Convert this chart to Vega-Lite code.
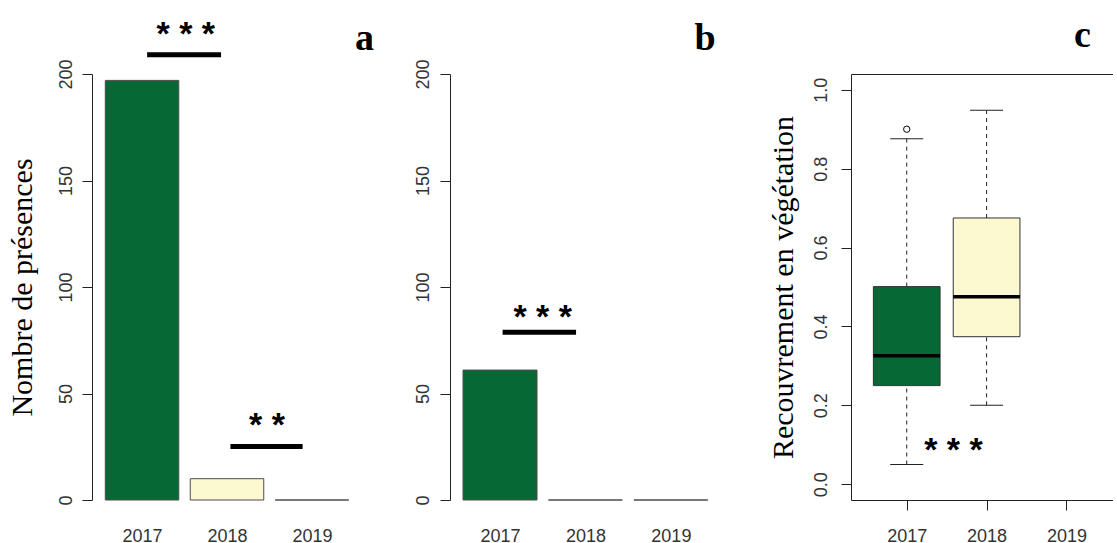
{
  "$schema": "https://vega.github.io/schema/vega-lite/v6.json",
  "padding": {"left": 7, "top": 17, "right": 0, "bottom": 0},
  "bounds": "flush",
  "spacing": 88,
  "config": {
    "view": {"stroke": null},
    "mark": {"opacity": 1},
    "axis": {
      "grid": false,
      "labelFont": "Liberation Sans",
      "labelFontSize": 18,
      "labelColor": "#333333",
      "labelFlush": false,
      "labelOverlap": false,
      "domainColor": "#222222",
      "tickColor": "#222222",
      "titleFont": "Liberation Serif",
      "titleFontSize": 30,
      "titleFontWeight": "normal",
      "titleColor": "#000000"
    },
    "axisY": {"labelAngle": -90, "labelAlign": "center", "labelBaseline": "bottom", "tickSize": 10, "labelPadding": 7}
  },
  "datasets": {
    "presence": [
      {"panel": "a", "year": 2017, "n": 197},
      {"panel": "a", "year": 2018, "n": 10},
      {"panel": "a", "year": 2019, "n": 0},
      {"panel": "b", "year": 2017, "n": 61},
      {"panel": "b", "year": 2018, "n": 0},
      {"panel": "b", "year": 2019, "n": 0}
    ],
    "boxstats": [
      {"year": 2017, "lower": 0.05, "q1": 0.25, "median": 0.326, "q3": 0.501, "upper": 0.876},
      {"year": 2018, "lower": 0.2, "q1": 0.374, "median": 0.475, "q3": 0.675, "upper": 0.948}
    ],
    "outliers": [{"year": 2017, "value": 0.9}],
    "signif": [
      {"panel": "a", "x1": 2017.06, "x2": 2017.93, "y": 209.0},
      {"panel": "a", "x1": 2018.04, "x2": 2018.89, "y": 25.1},
      {"panel": "b", "x1": 2017.03, "x2": 2017.89, "y": 78.7}
    ],
    "stars": [
      {"panel": "a", "x": 2017.515, "y": 213.8, "label": "* * *"},
      {"panel": "a", "x": 2018.47, "y": 30.2, "label": "* *"},
      {"panel": "b", "x": 2017.5, "y": 80.6, "label": "* * *"},
      {"panel": "c", "x": 2017.585, "y": 0.058, "label": "* * *"}
    ],
    "letters": [
      {"panel": "a", "x": 2019.618, "y": 211.5, "label": "a"},
      {"panel": "b", "x": 2019.4, "y": 211.5, "label": "b"},
      {"panel": "c", "x": 2019.2, "y": 1.108, "label": "c"}
    ]
  },
  "hconcat": [
    {
      "width": 270,
      "height": 426,
      "layer": [
        {
          "data": {"name": "presence"},
          "transform": [{"filter": "datum.panel === 'a'"}],
          "mark": {"type": "bar", "width": 73.5, "stroke": "#4d4d4d", "strokeWidth": 1},
          "encoding": {
            "x": {"field": "year", "type": "quantitative", "scale": {"domain": [2016.47, 2019.53], "nice": false, "zero": false},
                  "axis": {"values": [2017, 2018, 2019], "format": "d", "domain": false, "ticks": false, "tickSize": 0, "labelPadding": 27, "title": null}},
            "y": {"field": "n", "type": "quantitative", "stack": null, "scale": {"domain": [0, 200], "nice": false},
                  "axis": {"values": [0, 50, 100, 150, 200], "title": "Nombre de présences", "titlePadding": 20}},
            "color": {"field": "year", "type": "nominal", "scale": {"domain": [2017, 2018, 2019], "range": ["#056835", "#FCF8D0", "#FFFFFF"]}, "legend": null}
          }
        },
        {
          "data": {"name": "signif"},
          "transform": [{"filter": "datum.panel === 'a'"}],
          "mark": {"type": "rule", "strokeWidth": 5, "color": "#000000"},
          "encoding": {
            "x": {"field": "x1", "type": "quantitative"},
            "x2": {"field": "x2"},
            "y": {"field": "y", "type": "quantitative"}
          }
        },
        {
          "data": {"name": "stars"},
          "transform": [{"filter": "datum.panel === 'a'"}],
          "mark": {"type": "text", "font": "Liberation Sans", "fontWeight": "bold", "fontSize": 34, "baseline": "alphabetic", "align": "center", "color": "#000000"},
          "encoding": {
            "x": {"field": "x", "type": "quantitative"},
            "y": {"field": "y", "type": "quantitative"},
            "text": {"field": "label"}
          }
        },
        {
          "data": {"name": "letters"},
          "transform": [{"filter": "datum.panel === 'a'"}],
          "mark": {"type": "text", "font": "Liberation Serif", "fontWeight": "bold", "fontSize": 38, "baseline": "alphabetic", "align": "center", "color": "#000000"},
          "encoding": {
            "x": {"field": "x", "type": "quantitative"},
            "y": {"field": "y", "type": "quantitative"},
            "text": {"field": "label"}
          }
        }
      ]
    },
    {
      "width": 313,
      "height": 426,
      "layer": [
        {
          "data": {"name": "presence"},
          "transform": [{"filter": "datum.panel === 'b'"}],
          "mark": {"type": "bar", "width": 74, "stroke": "#4d4d4d", "strokeWidth": 1},
          "encoding": {
            "x": {"field": "year", "type": "quantitative", "scale": {"domain": [2016.473, 2020.02], "nice": false, "zero": false},
                  "axis": {"values": [2017, 2018, 2019], "format": "d", "domain": false, "ticks": false, "tickSize": 0, "labelPadding": 27, "title": null}},
            "y": {"field": "n", "type": "quantitative", "stack": null, "scale": {"domain": [0, 200], "nice": false},
                  "axis": {"values": [0, 50, 100, 150, 200], "labelPadding": 8, "title": null}},
            "color": {"field": "year", "type": "nominal", "scale": {"domain": [2017, 2018, 2019], "range": ["#056835", "#FCF8D0", "#FFFFFF"]}, "legend": null}
          }
        },
        {
          "data": {"name": "signif"},
          "transform": [{"filter": "datum.panel === 'b'"}],
          "mark": {"type": "rule", "strokeWidth": 5, "color": "#000000"},
          "encoding": {
            "x": {"field": "x1", "type": "quantitative"},
            "x2": {"field": "x2"},
            "y": {"field": "y", "type": "quantitative"}
          }
        },
        {
          "data": {"name": "stars"},
          "transform": [{"filter": "datum.panel === 'b'"}],
          "mark": {"type": "text", "font": "Liberation Sans", "fontWeight": "bold", "fontSize": 34, "baseline": "alphabetic", "align": "center", "color": "#000000"},
          "encoding": {
            "x": {"field": "x", "type": "quantitative"},
            "y": {"field": "y", "type": "quantitative"},
            "text": {"field": "label"}
          }
        },
        {
          "data": {"name": "letters"},
          "transform": [{"filter": "datum.panel === 'b'"}],
          "mark": {"type": "text", "font": "Liberation Serif", "fontWeight": "bold", "fontSize": 38, "baseline": "alphabetic", "align": "center", "color": "#000000"},
          "encoding": {
            "x": {"field": "x", "type": "quantitative"},
            "y": {"field": "y", "type": "quantitative"},
            "text": {"field": "label"}
          }
        }
      ]
    },
    {
      "width": 262,
      "height": 426,
      "resolve": {"axis": {"x": "independent"}},
      "layer": [
        {
          "data": {"name": "boxstats"},
          "mark": {"type": "rule", "strokeDash": [4, 4], "strokeWidth": 1, "color": "#222222"},
          "encoding": {
            "x": {"field": "year", "type": "quantitative", "scale": {"domain": [2016.365, 2019.52], "nice": false, "zero": false},
                  "axis": {"values": [2017, 2018, 2019], "format": "d", "orient": "bottom", "domain": true, "ticks": true, "tickSize": 10, "labelPadding": 17, "title": null}},
            "y": {"field": "lower", "type": "quantitative", "scale": {"domain": [-0.04, 1.04], "nice": false, "zero": false},
                  "axis": {"values": [0, 0.2, 0.4, 0.6, 0.8, 1.0], "format": ".1f", "labelPadding": 11, "title": "Recouvrement  en végétation", "titlePadding": 14}},
            "y2": {"field": "q1"}
          }
        },
        {
          "data": {"name": "boxstats"},
          "mark": {"type": "rule", "strokeDash": [4, 4], "strokeWidth": 1, "color": "#222222"},
          "encoding": {
            "x": {"field": "year", "type": "quantitative", "axis": {"orient": "top", "domain": true, "labels": false, "ticks": false, "title": null, "domainColor": "#222222"}},
            "y": {"field": "q3", "type": "quantitative"},
            "y2": {"field": "upper"}
          }
        },
        {
          "data": {"name": "boxstats"},
          "mark": {"type": "tick", "orient": "horizontal", "size": 33, "thickness": 1, "color": "#222222"},
          "encoding": {
            "x": {"field": "year", "type": "quantitative", "axis": null},
            "y": {"field": "lower", "type": "quantitative"}
          }
        },
        {
          "data": {"name": "boxstats"},
          "mark": {"type": "tick", "orient": "horizontal", "size": 33, "thickness": 1, "color": "#222222"},
          "encoding": {
            "x": {"field": "year", "type": "quantitative", "axis": null},
            "y": {"field": "upper", "type": "quantitative"}
          }
        },
        {
          "data": {"name": "boxstats"},
          "mark": {"type": "bar", "width": 66.7, "stroke": "#333333", "strokeWidth": 1},
          "encoding": {
            "x": {"field": "year", "type": "quantitative", "axis": null},
            "y": {"field": "q1", "type": "quantitative"},
            "y2": {"field": "q3"},
            "color": {"field": "year", "type": "nominal", "scale": {"domain": [2017, 2018, 2019], "range": ["#056835", "#FCF8D0", "#FFFFFF"]}, "legend": null}
          }
        },
        {
          "data": {"name": "boxstats"},
          "mark": {"type": "tick", "orient": "horizontal", "size": 66.7, "thickness": 3.5, "color": "#000000"},
          "encoding": {
            "x": {"field": "year", "type": "quantitative", "axis": null},
            "y": {"field": "median", "type": "quantitative"}
          }
        },
        {
          "data": {"name": "outliers"},
          "mark": {"type": "point", "shape": "circle", "filled": false, "size": 40, "stroke": "#000000", "strokeWidth": 1},
          "encoding": {
            "x": {"field": "year", "type": "quantitative", "axis": null},
            "y": {"field": "value", "type": "quantitative"}
          }
        },
        {
          "data": {"name": "stars"},
          "transform": [{"filter": "datum.panel === 'c'"}],
          "mark": {"type": "text", "font": "Liberation Sans", "fontWeight": "bold", "fontSize": 34, "baseline": "alphabetic", "align": "center", "color": "#000000"},
          "encoding": {
            "x": {"field": "x", "type": "quantitative", "axis": null},
            "y": {"field": "y", "type": "quantitative"},
            "text": {"field": "label"}
          }
        },
        {
          "data": {"name": "letters"},
          "transform": [{"filter": "datum.panel === 'c'"}],
          "mark": {"type": "text", "font": "Liberation Serif", "fontWeight": "bold", "fontSize": 38, "baseline": "alphabetic", "align": "center", "color": "#000000"},
          "encoding": {
            "x": {"field": "x", "type": "quantitative", "axis": null},
            "y": {"field": "y", "type": "quantitative"},
            "text": {"field": "label"}
          }
        }
      ]
    }
  ]
}
